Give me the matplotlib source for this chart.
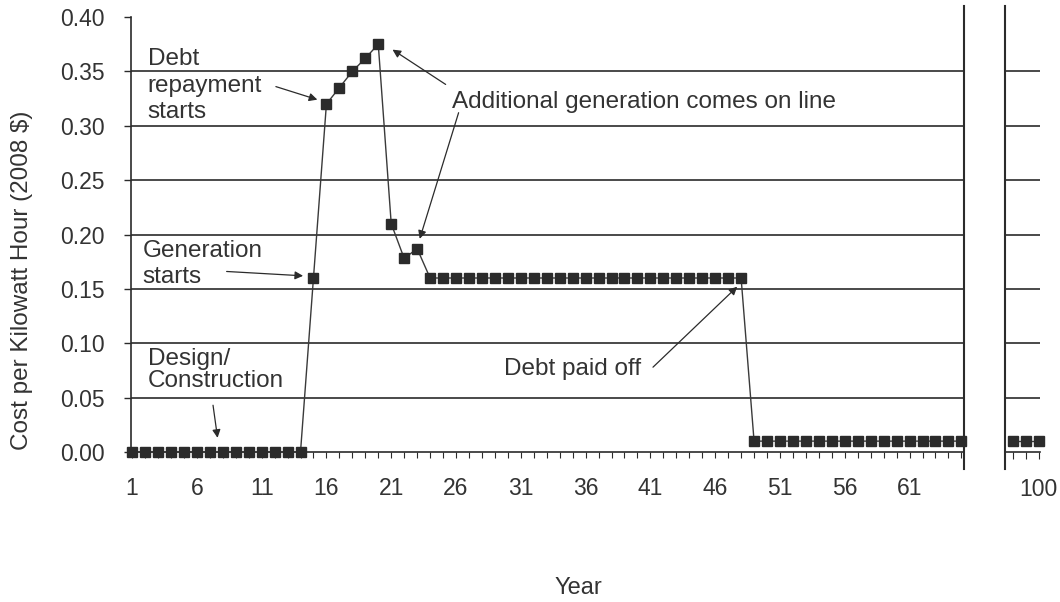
import matplotlib.pyplot as plt

# Data
years_main = [1, 2, 3, 4, 5, 6, 7, 8, 9, 10, 11, 12, 13, 14, 15, 16, 17, 18, 19, 20,
              21, 22, 23, 24, 25, 26, 27, 28, 29, 30, 31, 32, 33, 34, 35, 36, 37, 38, 39, 40,
              41, 42, 43, 44, 45, 46, 47, 48, 49, 50, 51, 52, 53, 54, 55, 56, 57, 58, 59, 60,
              61, 62, 63, 64, 65]
cost_main = [0.0, 0.0, 0.0, 0.0, 0.0, 0.0, 0.0, 0.0, 0.0, 0.0, 0.0, 0.0, 0.0, 0.0,
             0.16, 0.32, 0.335, 0.35, 0.362, 0.375, 0.21, 0.178, 0.187,
             0.16, 0.16, 0.16, 0.16, 0.16, 0.16, 0.16, 0.16, 0.16, 0.16, 0.16, 0.16, 0.16,
             0.16, 0.16, 0.16, 0.16, 0.16, 0.16, 0.16, 0.16, 0.16, 0.16, 0.16, 0.16,
             0.01, 0.01, 0.01, 0.01, 0.01, 0.01, 0.01, 0.01, 0.01, 0.01, 0.01, 0.01, 0.01,
             0.01, 0.01, 0.01, 0.01]
years_tail = [98, 99, 100]
cost_tail = [0.01, 0.01, 0.01]

main_ticks = [1, 6, 11, 16, 21, 26, 31, 36, 41, 46, 51, 56, 61]
y_ticks = [0.0, 0.05, 0.10, 0.15, 0.20, 0.25, 0.30, 0.35, 0.40]

plt.rcParams['font.family'] = ['Liberation Sans', 'DejaVu Sans']
INK = '#2b2b2b'
TXT = '#333333'
FS = 16.5

W, H = 1060, 602
fig = plt.figure(figsize=(W / 100, H / 100), dpi=100)
fig.patch.set_facecolor('white')

bottom = 1 - 452 / H
height = (452 - 17) / H
ax = fig.add_axes([131 / W, bottom, (964 - 131) / W, height])
ax2 = fig.add_axes([1005 / W, bottom, (1040 - 1005) / W, height])

for a in (ax, ax2):
    a.set_ylim(0, 0.40)
    for s in ('top', 'right'):
        a.spines[s].set_visible(False)
    a.spines['bottom'].set_color(INK)
    a.spines['bottom'].set_linewidth(1.2)
    for g in y_ticks[1:-1]:
        a.axhline(g, color=INK, lw=1.2, zorder=1)

ax.set_xlim(0.92, 65.2)
ax2.set_xlim(97.4, 100.1)

# cost series (main panel and the year-100 tail)
ax.plot(years_main, cost_main, color='#3a3a3a', lw=1.0, marker='s', ms=7.8,
        mfc=INK, mec=INK, clip_on=False, zorder=3)
ax2.plot(years_tail, cost_tail, color='#3a3a3a', lw=1.0, marker='s', ms=7.8,
         mfc=INK, mec=INK, clip_on=False, zorder=3)

# axes styling
ax.spines['left'].set_color(INK)
ax.spines['left'].set_linewidth(1.2)
ax.set_yticks(y_ticks)
ax.set_yticklabels([f'{v:.2f}' for v in y_ticks], fontsize=FS, color=TXT)
ax.tick_params(axis='y', length=5, width=1, color=INK, pad=14)
ax.set_xticks(main_ticks)
ax.set_xticklabels([str(t) for t in main_ticks], fontsize=FS, color=TXT)
ax.set_xticks(years_main, minor=True)
ax.tick_params(axis='x', which='both', length=4, width=0.8, color=INK, pad=14)

ax2.spines['left'].set_visible(False)
ax2.set_yticks([])
ax2.set_xticks([100])
ax2.set_xticklabels(['100'], fontsize=FS, color=TXT)
ax2.set_xticks(years_tail, minor=True)
ax2.tick_params(axis='x', which='both', length=5, width=0.8, color=INK, pad=14)

# break lines
ax.plot([1, 1], [-0.04, 1.025], transform=ax.transAxes, color=INK, lw=1.5, clip_on=False)
ax2.plot([0, 0], [-0.04, 1.025], transform=ax2.transAxes, color=INK, lw=1.5, clip_on=False)

fig.text(22 / W, 1 - 280 / H, 'Cost per Kilowatt Hour (2008 $)', rotation=90,
         ha='center', va='center', fontsize=17.5, color=TXT)
fig.text(578 / W, 1 - 588 / H, 'Year', ha='center', va='center', fontsize=17, color=TXT)

# annotations
arw = dict(arrowstyle='-|>', color=INK, lw=0.9, mutation_scale=12, shrinkA=0, shrinkB=0)
tfs = 17.5
ax.text(2.2, 0.337, 'Debt\nrepayment\nstarts', ha='left', va='center', fontsize=tfs,
        color=TXT, linespacing=1.25)
ax.annotate('', xy=(15.3, 0.324), xytext=(12.1, 0.336), arrowprops=arw)

ax.text(1.8, 0.173, 'Generation\nstarts', ha='left', va='center', fontsize=tfs,
        color=TXT, linespacing=1.2)
ax.annotate('', xy=(14.2, 0.162), xytext=(8.3, 0.166), arrowprops=arw)

ax.text(2.2, 0.075, 'Design/\nConstruction', ha='left', va='center', fontsize=tfs,
        color=TXT, linespacing=1.0)
ax.annotate('', xy=(7.6, 0.013), xytext=(7.25, 0.043), arrowprops=arw)

ax.text(25.7, 0.322, 'Additional generation comes on line', ha='left', va='center',
        fontsize=tfs, color=TXT)
ax.annotate('', xy=(21.1, 0.370), xytext=(25.2, 0.338), arrowprops=arw)
ax.annotate('', xy=(23.2, 0.196), xytext=(26.2, 0.312), arrowprops=arw)

ax.text(29.7, 0.076, 'Debt paid off', ha='left', va='center', fontsize=tfs, color=TXT)
ax.annotate('', xy=(47.7, 0.152), xytext=(41.2, 0.078), arrowprops=arw)

fig.savefig('out.png', dpi=100, facecolor='white')
